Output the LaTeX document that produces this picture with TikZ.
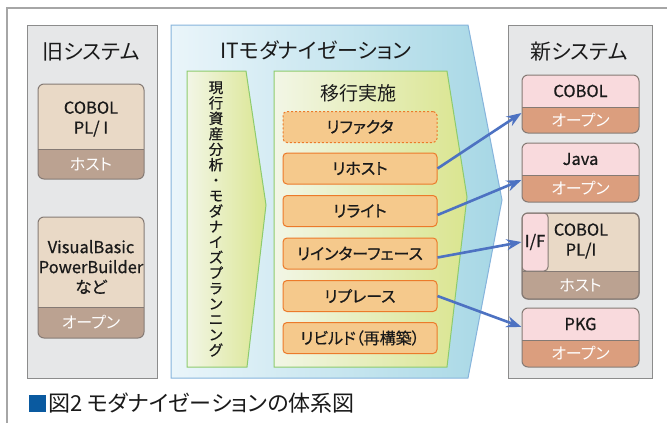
\documentclass[tikz,border=0pt]{standalone}
\usepackage{fontspec}
\setmainfont{Noto Sans CJK JP}[RawFeature=+palt]
\newfontfamily\mfont{Noto Sans CJK JP}[RawFeature=+palt, FakeBold=0.6]
\newfontfamily\vfont{Noto Sans CJK JP}[FakeBold=0.6]
\usetikzlibrary{arrows.meta,fit,calc}
\definecolor{framec}{HTML}{A6A6A6}
\definecolor{panelf}{HTML}{E6E7E8}
\definecolor{panelb}{HTML}{8C8C8C}
\definecolor{oldtop}{HTML}{E9D9C6}
\definecolor{oldband}{HTML}{BBA291}
\definecolor{newtop}{HTML}{F9DADD}
\definecolor{newband}{HTML}{DB9E7E}
\definecolor{boxbd}{HTML}{857A74}
\definecolor{blueL}{HTML}{EAF5FA}
\definecolor{blueR}{HTML}{A6D7E5}
\definecolor{bluebd}{HTML}{86B4DC}
\definecolor{greenL}{HTML}{F2F6E6}
\definecolor{greenR}{HTML}{DAE58F}
\definecolor{greenbd}{HTML}{8DCB6E}
\definecolor{orf}{HTML}{F5C98C}
\definecolor{orbd}{HTML}{EC7A2A}
\definecolor{arrc}{HTML}{4D72C2}
\definecolor{capblue}{HTML}{0A5AA0}
\definecolor{txt}{HTML}{1A1A1A}
\newcommand{\splitbox}[8]{%
  \begin{scope}
    \clip[rounded corners=6pt] (#2,#3) rectangle (#4,#5);
    \fill[#7] (#2,#3) rectangle (#4,#6);
    \fill[#8] (#2,#6) rectangle (#4,#5);
    \draw[boxbd, line width=1pt] (#2,#6) -- (#4,#6);
  \end{scope}
  \node[draw=boxbd, line width=1pt, rounded corners=6pt, inner sep=0pt, fit={(#2,#3)(#4,#5)}] (#1) {};
}
\begin{document}
\begin{tikzpicture}[x=1pt,y=-1pt,
  panel/.style={draw=panelb, fill=panelf, line width=1pt, inner sep=0pt},
  ttl/.style={text=txt, font=\fontsize{21}{24}\selectfont},
  btxt/.style={text=txt, align=center, font=\mfont\fontsize{16.5}{20}\selectfont},
  bandtxt/.style={text=white, font=\fontsize{16}{19}\selectfont},
  obox/.style={draw=orbd, fill=orf, line width=1pt, rounded corners=4pt, minimum width=154pt, minimum height=31pt, inner sep=0pt, text=txt, font=\mfont\fontsize{16}{19}\selectfont},
  arr/.style={draw=arrc, line width=2.6pt, -{Stealth[length=15pt,width=11pt]}}
]
\useasboundingbox (0,0) rectangle (667,423);
\fill[white] (0,0) rectangle (667,423);
\draw[framec, line width=1.2pt] (7,423) -- (7,8) -- (667,8);

% old system
\node[panel, fit={(27,25)(157,378)}] (oldp) {};
\node[ttl] (oldt) at (91,52) {旧システム};
\splitbox{o1}{38}{84}{144}{179}{149}{oldtop}{oldband}
\node[btxt] (o1t) at (91,119) {COBOL\\PL/ I};
\node[bandtxt] (o1b) at (91,164) {ホスト};
\splitbox{o2}{38}{217}{144}{338}{307}{oldtop}{oldband}
\node[btxt] (o2t) at (91,267) {VisualBasic\\PowerBuilder\\など};
\node[bandtxt] (o2b) at (91,322.5) {オープン};

% IT modernization
\path[draw=bluebd, line width=1pt, left color=blueL, right color=blueR]
  (171,25) -- (468,25) -- (502,200) -- (468,378) -- (171,378) -- cycle;
\node[ttl] (itt) at (316,50) {ITモダナイゼーション};
\path[draw=greenbd, line width=1pt, left color=greenL, right color=greenR]
  (187,71) -- (246,71) -- (266,205) -- (247,367) -- (187,367) -- cycle;
\node[text=txt, align=center, inner sep=0pt, font=\vfont\fontsize{14.5}{15.45}\selectfont] (vt) at (216,219)
  {現\\行\\資\\産\\分\\析\\・\\モ\\ダ\\ナ\\イ\\ズ\\プ\\ラ\\ン\\ニ\\ン\\グ};
\path[draw=greenbd, line width=1pt, left color=greenL, right color=greenR]
  (274,71) -- (447,71) -- (467,197) -- (447,367) -- (274,367) -- cycle;
\node[text=txt, font=\fontsize{19}{22}\selectfont] (mt) at (358,93) {移行実施};
\node[obox, dash pattern=on 2pt off 2pt] (rfac) at (360,127) {リファクタ};
\node[obox] (rhost) at (360,168.5) {リホスト};
\node[obox] (rwri) at (360,211) {リライト};
\node[obox] (rif) at (360,253.5) {リインターフェース};
\node[obox] (rrep) at (360,296) {リプレース};
\node[obox] (rbld) at (360,338) {リビルド（再構築）};

% new system
\node[panel, fit={(508,25)(652,378)}] (newp) {};
\node[ttl] (newt) at (579,52) {新システム};
\splitbox{n1}{522}{75}{639}{133}{107}{newtop}{newband}
\node[btxt] (n1t) at (580.5,91) {COBOL};
\node[bandtxt] (n1b) at (580.5,120) {オープン};
\splitbox{n2}{522}{143}{639}{202}{175}{newtop}{newband}
\node[btxt] (n2t) at (580.5,159) {Java};
\node[bandtxt] (n2b) at (580.5,188.5) {オープン};
\splitbox{n3}{522}{213}{639}{299}{271}{oldtop}{oldband}
\begin{scope}
  \clip[rounded corners=6pt] (522,213) rectangle (639,299);
  \node[draw=boxbd, fill=newtop, line width=1pt, rounded corners=4pt, inner sep=0pt, fit={(522,213)(548,271)}] (ifb) {};
\end{scope}
\node[draw=boxbd, line width=1pt, rounded corners=6pt, inner sep=0pt, fit={(522,213)(639,299)}] {};
\node[btxt] (ift) at (535,242) {I/F};
\node[btxt] (n3t) at (581,241) {COBOL\\PL/I};
\node[bandtxt] (n3b) at (580.5,285) {ホスト};
\splitbox{n4}{522}{308}{639}{367}{340}{newtop}{newband}
\node[btxt] (n4t) at (580.5,324) {PKG};
\node[bandtxt] (n4b) at (580.5,353.5) {オープン};

% arrows
\draw[arr] (rhost.east) -- ($(n1.west)+(0,9)$);
\draw[arr] ($(rwri.east)+(0,4)$) -- ($(n2.west)+(0,7.5)$);
\draw[arr] ($(rif.east)+(0,4)$) -- (ifb.west);
\draw[arr] (rrep.east) -- ($(n4.west)+(0,-10.5)$);

% caption
\node[fill=capblue, minimum size=17pt, inner sep=0pt] (sq) at (37.5,403.5) {};
\node[anchor=west, inner sep=0pt, text=txt, font=\fontsize{22}{25}\selectfont] (cap) at (48,403.5) {図2 モダナイゼーションの体系図};
\end{tikzpicture}
\end{document}
